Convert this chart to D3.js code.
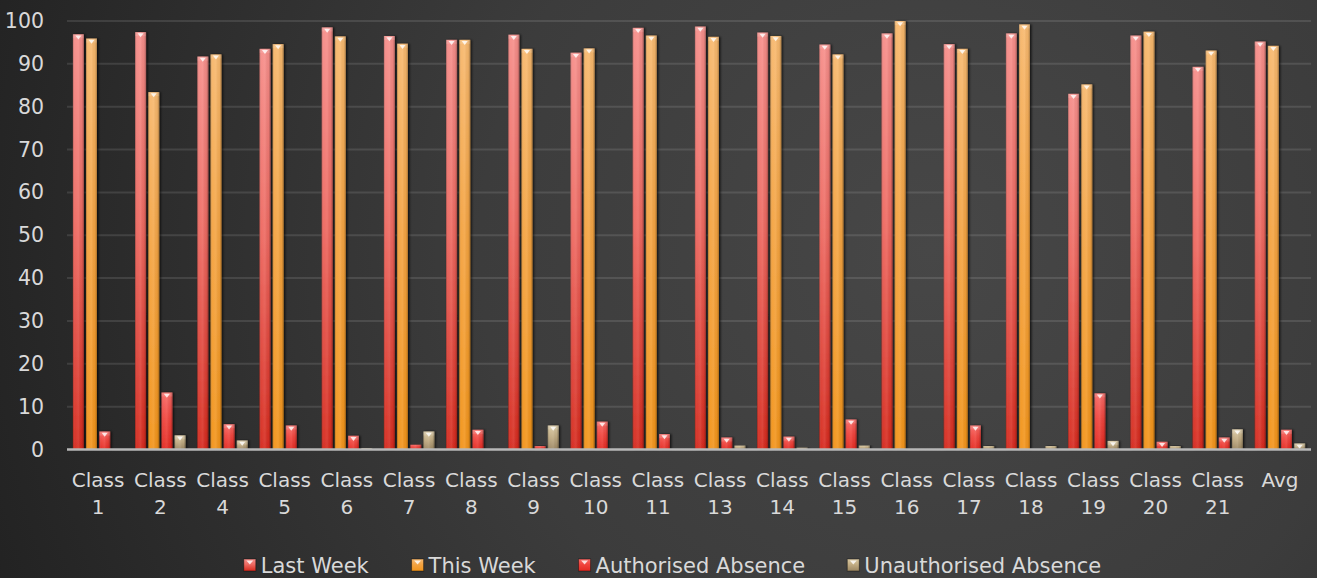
<!DOCTYPE html>
<html>
<head>
<meta charset="utf-8">
<script src="https://cdn.jsdelivr.net/npm/d3@7"></script>
<style>
  body { margin: 0; background: #2e2e2e; }
  svg { display: block; font-family: "DejaVu Sans", sans-serif; }
</style>
</head>
<body>
<div id="chart"></div>
<script>
// data
const classes = ["Class 1", "Class 2", "Class 4", "Class 5", "Class 6", "Class 7", "Class 8", "Class 9", "Class 10", "Class 11",
  "Class 13", "Class 14", "Class 15", "Class 16", "Class 17", "Class 18", "Class 19", "Class 20", "Class 21", "Avg"];
const lastWeek = [96.9, 97.4, 91.7, 93.5, 98.5, 96.5, 95.6, 96.8, 92.6, 98.4, 98.7, 97.3, 94.5, 97.1, 94.6, 97.1, 83.0, 96.6, 89.3, 95.2];
const thisWeek = [95.9, 83.4, 92.2, 94.6, 96.4, 94.7, 95.6, 93.5, 93.6, 96.6, 96.3, 96.5, 92.2, 100, 93.5, 99.2, 85.2, 97.5, 93.1, 94.2];
const authorised = [4.2, 13.3, 5.9, 5.6, 3.2, 1.1, 4.6, 0.8, 6.5, 3.6, 2.8, 3.0, 7.0, 0, 5.6, 0, 13.1, 1.8, 2.8, 4.6];
const unauthorised = [0, 3.3, 2.1, 0, 0.3, 4.2, 0, 5.6, 0, 0, 0.9, 0.4, 0.9, 0, 0.8, 0.8, 2.0, 0.8, 4.7, 1.4];
const seriesNames = ["Last Week", "This Week", "Authorised Absence", "Unauthorised Absence"];
const yTicks = [0, 10, 20, 30, 40, 50, 60, 70, 80, 90, 100];

const seriesValues = [lastWeek, thisWeek, authorised, unauthorised];
const seriesColors = [
  ["#f68e8a", "#ee6a62", "#d62a1e"],
  ["#f7b86e", "#f4a443", "#f2941a"],
  ["#f76a66", "#f0453e", "#e42a22"],
  ["#d9c8a2", "#c2ad84", "#9c8762"]
];

const W = 1317, H = 578;
const margin = { TOP: 21, BOTTOM: 128.5, LEFT: 67, RIGHT: 6 };
const w = W - margin.LEFT - margin.RIGHT;
const h = H - margin.TOP - margin.BOTTOM;

const svg = d3.select("#chart").append("svg")
  .attr("width", W)
  .attr("height", H);

const defs = svg.append("defs");

// background
const bg = defs.append("radialGradient").attr("id", "bg")
  .attr("gradientUnits", "userSpaceOnUse")
  .attr("cx", 930).attr("cy", 250).attr("r", 1000);
bg.append("stop").attr("offset", "0%").attr("stop-color", "#474747");
bg.append("stop").attr("offset", "45%").attr("stop-color", "#3c3c3c");
bg.append("stop").attr("offset", "100%").attr("stop-color", "#222");

svg.append("rect").attr("width", W).attr("height", H).attr("fill", "url(#bg)");

// bar gradients
seriesColors.forEach((c, i) => {
  const g = defs.append("linearGradient").attr("id", "fill" + i)
    .attr("x1", 0).attr("y1", 0).attr("x2", 0).attr("y2", 1);
  g.append("stop").attr("offset", "0%").attr("stop-color", c[0]);
  g.append("stop").attr("offset", "45%").attr("stop-color", c[1]);
  g.append("stop").attr("offset", "100%").attr("stop-color", c[2]);
});
const shade = defs.append("linearGradient").attr("id", "shade")
  .attr("x1", 0).attr("y1", 0).attr("x2", 1).attr("y2", 0);
shade.append("stop").attr("offset", "0%").attr("stop-color", "#000").attr("stop-opacity", 0.25);
shade.append("stop").attr("offset", "18%").attr("stop-color", "#fff").attr("stop-opacity", 0.04);
shade.append("stop").attr("offset", "50%").attr("stop-color", "#fff").attr("stop-opacity", 0.1);
shade.append("stop").attr("offset", "82%").attr("stop-color", "#000").attr("stop-opacity", 0.04);
shade.append("stop").attr("offset", "100%").attr("stop-color", "#000").attr("stop-opacity", 0.3);

const shadow = defs.append("filter").attr("id", "shadow")
  .attr("x", "-50%").attr("y", "-10%").attr("width", "200%").attr("height", "120%");
shadow.append("feDropShadow").attr("dx", 1.5).attr("dy", 0).attr("stdDeviation", 1)
  .attr("flood-color", "#000").attr("flood-opacity", 0.7);

const g = svg.append("g").attr("transform", `translate(${margin.LEFT}, ${margin.TOP})`);

// scales
const x0 = d3.scaleBand().domain(classes).range([0, w]).padding(0);
const x1 = d3.scaleBand().domain(d3.range(4)).range([0, x0.bandwidth()])
  .paddingInner(0.17).paddingOuter(0.45);
const y = d3.scaleLinear().domain([0, 100]).range([h, 0]);

// grid
g.selectAll(".grid").data(yTicks.filter(d => d > 0)).enter()
  .append("line").attr("class", "grid")
  .attr("x1", 0).attr("x2", w)
  .attr("y1", d => y(d)).attr("y2", d => y(d))
  .attr("stroke", "#fff").attr("stroke-opacity", 0.11).attr("stroke-width", 2);

// y axis labels
const yAxis = g.append("g").call(d3.axisLeft(y).tickValues(yTicks).tickSize(0).tickPadding(23));
yAxis.select(".domain").remove();
yAxis.selectAll("text").attr("fill", "#d9d9d9").style("font-size", "20.5px")
  .style("font-family", "'DejaVu Sans', sans-serif");

// bars
const rows = [];
classes.forEach((c, ci) => {
  seriesValues.forEach((vals, si) => {
    if (vals[ci] > 0) rows.push({ cls: c, s: si, v: vals[ci] });
  });
});

const bars = g.selectAll(".bar").data(rows).enter().append("g").attr("class", "bar")
  .attr("transform", d => `translate(${x0(d.cls) + x1(d.s)}, ${y(d.v)})`);
const bw = x1.bandwidth();

bars.append("rect")
  .attr("width", bw).attr("height", d => h - y(d.v))
  .attr("fill", d => `url(#fill${d.s})`)
  .attr("filter", "url(#shadow)");
bars.append("rect")
  .attr("width", bw).attr("height", d => h - y(d.v))
  .attr("fill", "url(#shade)");
bars.filter(d => h - y(d.v) > 5).append("rect")
  .attr("width", bw).attr("height", 4)
  .attr("fill", "#fff").attr("fill-opacity", 0.12);
bars.filter(d => h - y(d.v) > 5).append("path")
  .attr("d", `M${bw * 0.22},1.2 L${bw * 0.78},1.2 L${bw / 2},5.2 Z`)
  .attr("fill", "#fff").attr("fill-opacity", 0.8);

// baseline
g.append("line").attr("x1", 0).attr("x2", w).attr("y1", h).attr("y2", h)
  .attr("stroke", "#b8b8b8").attr("stroke-width", 2.5);

// x labels
const xl = g.selectAll(".xl").data(classes).enter().append("text").attr("class", "xl")
  .attr("x", d => x0(d) + x0.bandwidth() / 2)
  .attr("y", h + 37)
  .attr("text-anchor", "middle")
  .attr("fill", "#d9d9d9")
  .style("font-size", "20px");
xl.each(function(d) {
  const parts = d.split(" ");
  d3.select(this).selectAll("tspan").data(parts).enter().append("tspan")
    .attr("x", x0(d) + x0.bandwidth() / 2)
    .attr("dy", (p, i) => i === 0 ? 0 : 27.5)
    .text(p => p);
});

// legend
const legend = svg.append("g").attr("transform", "translate(0, 565)");
let lx = 0;
const gap = 42;
const items = legend.selectAll(".li").data(seriesNames).enter().append("g").attr("class", "li");
items.append("rect").attr("x", 0).attr("y", -6).attr("width", 12).attr("height", 12)
  .attr("fill", (d, i) => `url(#fill${i})`).attr("stroke", "#000").attr("stroke-opacity", 0.4);
items.append("path").attr("d", "M2.5,-4.5 L9.5,-4.5 L6,-0.5 Z").attr("fill", "#fff").attr("fill-opacity", 0.8);
items.append("text").attr("x", 17).attr("dy", "0.36em").attr("fill", "#d9d9d9")
  .style("font-size", "21px").text(d => d);
items.each(function() {
  const el = d3.select(this);
  el.attr("transform", `translate(${lx}, 0)`);
  lx += this.getBBox().width + gap;
});
const total = lx - gap;
legend.attr("transform", `translate(${(W - total) / 2 + 14}, 565)`);
</script>
</body>
</html>
